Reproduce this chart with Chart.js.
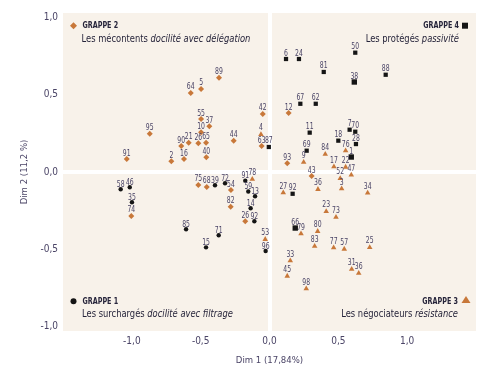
<!DOCTYPE html>
<html><head><meta charset="utf-8">
<script src="https://cdn.jsdelivr.net/npm/chart.js@4/dist/chart.umd.min.js"></script>
<style>html,body{margin:0;padding:0;background:#fff}canvas{display:block}</style>
</head><body>
<canvas id="c" width="494" height="380"></canvas>
<script>
// ---- DATA ----
// Grappe 1 : Les surchargés (black circles)
const g1Ids = ['58','46','35','39','72','91','59','13','14','92','85','71','15','96'];
const g1X   = [-1.081,-1.015,-0.999,-0.396,-0.323,-0.176,-0.154,-0.105,-0.137,-0.110,-0.606,-0.369,-0.461,-0.028];
const g1Y   = [-0.112,-0.099,-0.196,-0.086,-0.073,-0.056,-0.126,-0.157,-0.235,-0.319,-0.371,-0.410,-0.488,-0.512];
// Grappe 2 : Les mécontents (orange diamonds)
const g2Ids = ['89','64','5','55','37','10','95','90','21','26','65','44','42','63','91','2','16','40','12','93','43','74','75','68','54','82','26'];
const g2X   = [-0.367,-0.572,-0.497,-0.497,-0.437,-0.497,-0.870,-0.641,-0.587,-0.517,-0.461,-0.260,-0.049,-0.057,-1.037,-0.713,-0.621,-0.459,0.139,0.129,0.306,-1.004,-0.517,-0.456,-0.280,-0.282,-0.176];
const g2Y   = [0.611,0.512,0.538,0.343,0.296,0.257,0.248,0.168,0.190,0.186,0.190,0.203,0.376,0.168,0.084,0.069,0.084,0.095,0.382,0.056,-0.026,-0.285,-0.084,-0.097,-0.117,-0.225,-0.319];
// Grappe 3 : Les négociateurs (orange triangles)
const g3Ids = ['4','84','76','9','17','22','52','47','27','36','3','34','23','73','79','80','53','78','83','77','57','25','33','45','31','36','98'];
const g3X   = [-0.062,0.405,0.553,0.248,0.468,0.553,0.514,0.594,0.100,0.352,0.524,0.713,0.412,0.483,0.229,0.350,-0.031,-0.125,0.328,0.466,0.543,0.728,0.151,0.129,0.597,0.648,0.267];
const g3Y   = [0.244,0.115,0.138,0.063,0.034,0.032,-0.041,-0.019,-0.134,-0.112,-0.108,-0.136,-0.255,-0.293,-0.400,-0.384,-0.436,-0.047,-0.481,-0.490,-0.499,-0.488,-0.574,-0.674,-0.630,-0.656,-0.756];
// Grappe 4 : Les protégés (black squares)
const g4Ids = ['87','6','24','50','81','38','88','67','62','11','7','70','18','28','69','1','92','66'];
const g4X   = [-0.005,0.120,0.214,0.623,0.394,0.616,0.844,0.224,0.336,0.292,0.582,0.623,0.500,0.628,0.270,0.594,0.168,0.187];
const g4Y   = [0.162,0.732,0.732,0.773,0.648,0.583,0.630,0.442,0.442,0.255,0.274,0.261,0.203,0.181,0.138,0.097,-0.141,-0.363];

const xTickValues = [-1,-0.5,0,0.5,1];
const xTickLabels = ['-1,0','-0,5','0,0','0,5','1,0'];
const yTickValues = [-1,-0.5,0,0.5,1];
const yTickLabels = ['-1,0','-0,5','0,0','0,5','1,0'];
const xTitle = 'Dim 1 (17,84%)';
const yTitle = 'Dim 2 (11,2 %)';
const groupNames = ['GRAPPE 1','GRAPPE 2','GRAPPE 3','GRAPPE 4'];
const groupRegular = ['Les surchargés ','Les mécontents ','Les négociateurs ','Les protégés '];
const groupItalic  = ['docilité avec filtrage','docilité avec délégation','résistance','passivité'];

// ---- STYLE ----
const ORANGE = '#c8783a';
const BLACK = '#151515';
const BEIGE = '#f8f2ea';
const LABEL_COLOR = '#4a4466';
const TEXT_COLOR = '#26243a';
const AXISFONT = "'DejaVu Sans Condensed','Liberation Sans',sans-serif";
const bigSquares = ['38','1','66'];

function pts(xs, ys){ return xs.map((x,i)=>({x:x, y:ys[i]})); }

// draw text squeezed horizontally by factor sx; align: 'left' | 'center' | 'right'
function squeezed(ctx, text, x, y, sx, align){
  const w = ctx.measureText(text).width * sx;
  let sxPos = x;
  if (align === 'center') sxPos = x - w/2;
  else if (align === 'right') sxPos = x - w;
  ctx.save();
  ctx.textAlign = 'left';
  ctx.translate(sxPos, y);
  ctx.scale(sx, 1);
  ctx.fillText(text, 0, 0);
  ctx.restore();
  return w;
}

const bgPlugin = {
  id:'bg',
  beforeDraw(chart){
    const {ctx, chartArea:a} = chart;
    ctx.save(); ctx.fillStyle = BEIGE;
    ctx.fillRect(a.left, a.top, a.right-a.left, a.bottom-a.top);
    ctx.restore();
  }
};

const labelPlugin = {
  id:'pointLabels',
  afterDatasetsDraw(chart){
    const ctx = chart.ctx;
    ctx.save();
    ctx.font = '8.5px ' + AXISFONT;
    ctx.fillStyle = LABEL_COLOR;
    ctx.textBaseline = 'alphabetic';
    chart.data.datasets.forEach((ds, di)=>{
      const meta = chart.getDatasetMeta(di);
      const off = ds.labelOffset;
      meta.data.forEach((el, i)=>{
        squeezed(ctx, ds.ids[i], el.x, el.y - off, 0.8, 'center');
      });
    });
    ctx.restore();
  }
};

function drawMarker(ctx, kind, x, y){
  ctx.beginPath();
  if (kind==='circle'){ ctx.fillStyle = BLACK; ctx.arc(x,y,3,0,Math.PI*2); }
  else if (kind==='diamond'){ ctx.fillStyle = ORANGE; ctx.moveTo(x,y-3.5); ctx.lineTo(x+3.5,y); ctx.lineTo(x,y+3.5); ctx.lineTo(x-3.5,y); ctx.closePath(); }
  else if (kind==='triangle'){ ctx.fillStyle = ORANGE; ctx.moveTo(x,y-4); ctx.lineTo(x+4.5,y+3); ctx.lineTo(x-4.5,y+3); ctx.closePath(); }
  else { ctx.fillStyle = BLACK; ctx.rect(x-3,y-3,6,6); }
  ctx.fill();
}

const SUB_SX = 0.845, HEAD_SX = 0.84;
function drawMixed(ctx, regular, italic, x, y, alignRight){
  const fr = '11px ' + AXISFONT, fi = 'italic 11px ' + AXISFONT;
  ctx.font = fr; const w1 = ctx.measureText(regular).width * SUB_SX;
  ctx.font = fi; const w2 = ctx.measureText(italic).width * SUB_SX;
  const sx = alignRight ? x - w1 - w2 : x;
  ctx.font = fr; squeezed(ctx, regular, sx, y, SUB_SX, 'left');
  ctx.font = fi; squeezed(ctx, italic, sx + w1, y, SUB_SX, 'left');
}
function drawHead(ctx, text, x, y, align){
  ctx.font = 'bold 8.5px ' + AXISFONT;
  ctx.fillStyle = TEXT_COLOR;
  squeezed(ctx, text, x, y, HEAD_SX, align);
}

const quadrantPlugin = {
  id:'quadrants',
  afterDraw(chart){
    const {ctx, chartArea:a} = chart;
    ctx.save();
    ctx.textBaseline = 'middle';
    // Grappe 2 top-left
    drawMarker(ctx,'diamond', a.left+10.5, a.top+12.7);
    drawHead(ctx, groupNames[1], a.left+19.5, a.top+12.9, 'left');
    ctx.fillStyle = TEXT_COLOR;
    drawMixed(ctx, groupRegular[1], groupItalic[1], a.left+18.5, a.top+26.5, false);
    // Grappe 4 top-right
    drawMarker(ctx,'square', a.right-11, a.top+12.7);
    drawHead(ctx, groupNames[3], a.right-17, a.top+12.9, 'right');
    ctx.fillStyle = TEXT_COLOR;
    drawMixed(ctx, groupRegular[3], groupItalic[3], a.right-17, a.top+26.5, true);
    // Grappe 1 bottom-left
    drawMarker(ctx,'circle', a.left+10.5, a.bottom-29.7);
    drawHead(ctx, groupNames[0], a.left+19.5, a.bottom-29.5, 'left');
    ctx.fillStyle = TEXT_COLOR;
    drawMixed(ctx, groupRegular[0], groupItalic[0], a.left+19, a.bottom-16.5, false);
    // Grappe 3 bottom-right
    drawMarker(ctx,'triangle', a.right-10, a.bottom-31);
    drawHead(ctx, groupNames[2], a.right-18, a.bottom-29.5, 'right');
    ctx.fillStyle = TEXT_COLOR;
    drawMixed(ctx, groupRegular[2], groupItalic[2], a.right-18, a.bottom-16.5, true);
    ctx.restore();
  }
};

const zeroGrid = {
  color: c => (c.tick && c.tick.value === 0) ? '#ffffff' : 'rgba(0,0,0,0)',
  lineWidth: 4,
  drawTicks: false
};

new Chart(document.getElementById('c'), {
  type:'scatter',
  data:{ datasets:[
    {label:groupNames[0], ids:g1Ids, data:pts(g1X,g1Y), pointStyle:'circle', pointRadius:2.2, backgroundColor:BLACK, borderWidth:0, labelOffset:2.5},
    {label:groupNames[1], ids:g2Ids, data:pts(g2X,g2Y), pointStyle:'rectRot', pointRadius:3, backgroundColor:ORANGE, borderWidth:0, labelOffset:3.5},
    {label:groupNames[2], ids:g3Ids, data:pts(g3X,g3Y), pointStyle:'triangle', pointRadius:3.2, backgroundColor:ORANGE, borderWidth:0, labelOffset:4},
    {label:groupNames[3], ids:g4Ids, data:pts(g4X,g4Y), pointStyle:'rect',
      pointRadius: c => bigSquares.includes(g4Ids[c.dataIndex]) ? 3.8 : 3.0,
      backgroundColor:BLACK, borderWidth:0, labelOffset:3.5}
  ]},
  options:{
    responsive:false, animation:false, events:[],
    layout:{padding:{top:13,right:18,left:0,bottom:0}},
    plugins:{legend:{display:false}, tooltip:{enabled:false}},
    scales:{
      x:{type:'linear', min:-1.5, max:1.5,
        afterBuildTicks: s => { s.ticks = xTickValues.map(v=>({value:v})); },
        afterFit: s => { s.height = 49; },
        ticks:{padding:4, color:LABEL_COLOR, font:{family:AXISFONT, size:10},
          callback:(v,i)=> xTickLabels[i]},
        grid: zeroGrid, border:{display:false},
        title:{display:true, text:xTitle, color:LABEL_COLOR, font:{family:AXISFONT, size:9.5}, padding:{top:0,bottom:14}}
      },
      y:{type:'linear', min:-1.03, max:1.03,
        afterBuildTicks: s => { s.ticks = yTickValues.map(v=>({value:v})); },
        afterFit: s => { s.width = 63; },
        ticks:{padding:5, color:LABEL_COLOR, font:{family:AXISFONT, size:10},
          callback:(v,i)=> yTickLabels[i]},
        grid: zeroGrid, border:{display:false},
        title:{display:true, text:yTitle, color:LABEL_COLOR, font:{family:AXISFONT, size:9.5}, padding:{top:19,bottom:0}}
      }
    }
  },
  plugins:[bgPlugin, labelPlugin, quadrantPlugin]
});
</script>
</body></html>
